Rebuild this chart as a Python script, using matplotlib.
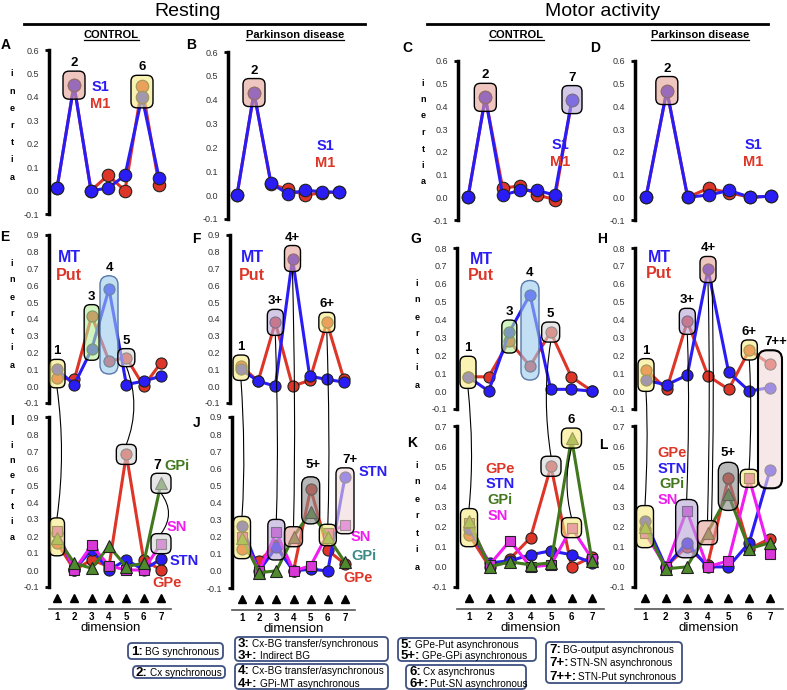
import numpy as np
import matplotlib
matplotlib.use('Agg')
import matplotlib.pyplot as plt
from matplotlib.patches import FancyBboxPatch, PathPatch
from matplotlib.path import Path
from matplotlib.lines import Line2D
from matplotlib.transforms import IdentityTransform, Affine2D
from matplotlib.colors import to_rgba
from matplotlib import font_manager

plt.rcParams['font.family'] = ['Liberation Sans', 'DejaVu Sans']

W, H = 787, 690
dims = [1, 2, 3, 4, 5, 6, 7]

# ---- data (inertia per dimension) ----
A_s1 = [0.01, 0.45, 0.0, 0.01, 0.065, 0.40, 0.055]
A_m1 = [0.01, 0.45, 0.0, 0.065, 0.0, 0.445, 0.025]
B_s1 = [0.0, 0.43, 0.05, 0.005, 0.02, 0.015, 0.012]
B_m1 = [0.0, 0.43, 0.045, 0.025, 0.0, 0.01, 0.012]
C_s1 = [0.0, 0.44, 0.01, 0.03, 0.03, 0.01, 0.43]
C_m1 = [0.0, 0.44, 0.04, 0.05, 0.01, -0.01, 0.43]
D_s1 = [0.0, 0.47, 0.0, 0.01, 0.03, 0.0, 0.005]
D_m1 = [0.0, 0.47, 0.0, 0.04, 0.02, 0.0, 0.005]

E_mt = [0.10, 0.01, 0.22, 0.58, 0.01, 0.03, 0.06]
E_put = [0.05, 0.04, 0.42, 0.15, 0.17, 0.0, 0.14]
F_mt = [0.10, 0.03, 0.0, 0.76, 0.06, 0.04, 0.025]
F_put = [0.12, 0.03, 0.38, 0.0, 0.035, 0.38, 0.04]
G_mt = [0.08, 0.0, 0.33, 0.54, 0.01, 0.01, 0.0]
G_put = [0.08, 0.08, 0.28, 0.14, 0.33, 0.08, 0.0]
H_mt = [0.06, 0.035, 0.09, 0.68, 0.105, 0.0, 0.02]
H_put = [0.12, 0.01, 0.39, 0.085, 0.01, 0.23, 0.15]

I_gpe = [0.16, 0.0, 0.06, 0.02, 0.68, 0.06, 0.0]
I_stn = [0.22, 0.0, 0.12, 0.0, 0.06, 0.0, 0.065]
I_gpi = [0.19, 0.04, 0.01, 0.14, 0.02, 0.04, 0.51]
I_sn = [0.23, 0.0, 0.145, 0.025, 0.0, 0.0, 0.155]
J_gpe = [0.13, 0.06, 0.15, 0.0, 0.48, 0.12, 0.04]
J_stn = [0.26, 0.0, 0.14, 0.0, 0.01, 0.0, 0.55]
J_gpi = [0.19, -0.01, 0.0, 0.20, 0.345, 0.20, 0.05]
J_sn = [0.20, 0.0, 0.225, 0.0, 0.03, 0.22, 0.27]
K_gpe = [0.16, 0.0, 0.04, 0.145, 0.50, 0.0, 0.05]
K_stn = [0.19, 0.02, 0.03, 0.06, 0.08, 0.06, 0.02]
K_gpi = [0.23, 0.0, 0.025, 0.01, 0.02, 0.64, 0.03]
K_sn = [0.22, 0.01, 0.13, 0.0, 0.01, 0.195, 0.04]
L_gpe = [0.19, 0.0, 0.10, 0.01, 0.44, 0.09, 0.14]
L_stn = [0.23, 0.0, 0.12, 0.0, 0.0, 0.12, 0.48]
L_gpi = [0.20, -0.01, 0.0, 0.17, 0.36, 0.09, 0.12]
L_sn = [0.17, 0.0, 0.28, 0.0, 0.03, 0.44, 0.065]

legend_items = [
    [('1:', 'BG synchronous')],
    [('2:', 'Cx synchronous')],
    [('3:', 'Cx-BG transfer/synchronous'), ('3+:', 'Indirect BG')],
    [('4:', 'Cx-BG transfer/asynchronous'), ('4+:', 'GPi-MT asynchronous')],
    [('5:', 'GPe-Put asynchronous'), ('5+:', 'GPe-GPi asynchronous')],
    [('6:', 'Cx asynchronus'), ('6+:', 'Put-SN asynchronous')],
    [('7:', 'BG-output asynchronous'), ('7+:', 'STN-SN asynchronous'),
     ('7++:', 'STN-Put synchronous')],
]

RED = '#dd3527'
BLUE = '#2a1cf5'
GREEN = '#41781d'
MAG = '#f01cf0'
YEL = '#f5ea80'
PINK = '#e3a195'
GRN = '#b4ee98'
LBLUE = '#9ccbee'
GREY = '#d6d6d6'
DGREY = '#8a8a8a'
PURP = '#b7a5d6'
LPINK = '#f0dada'

installed = {f.name for f in font_manager.fontManager.ttflist}
NARROW = 'Liberation Sans Narrow' if 'Liberation Sans Narrow' in installed else 'Liberation Sans'

fig = plt.figure(figsize=(W / 100, H / 100), dpi=100)
T = Affine2D().scale(1, -1).translate(0, H)   # pixel coords, origin top-left


def ftext(x, y, s, **kw):
    return fig.text(x, y, s, transform=T, **kw)


def panel(spine, x1, x7, ylo, yhi, ytop, ybot, bottom=False):
    s = (x7 - x1) / 6
    xmin = 1 - (x1 - spine) / s
    xmax = 7.6
    right = x1 + (xmax - 1) * s
    ax = fig.add_axes([spine / W, 1 - ybot / H, (right - spine) / W, (ybot - ytop) / H])
    ax.set_xlim(xmin, xmax)
    ax.set_ylim(ylo, yhi)
    ax.patch.set_alpha(0)
    ax.spines['top'].set_visible(False)
    ax.spines['right'].set_visible(False)
    ax.spines['left'].set_linewidth(2.5)
    yt = np.round(np.arange(ylo, yhi + 0.01, 0.1), 1)
    ax.set_yticks(yt)
    ax.set_yticklabels(['%.1f' % (v if abs(v) > 1e-9 else 0.0) for v in yt])
    ax.tick_params(axis='y', length=0, labelsize=6.5, labelcolor='#333333', pad=7)
    ax.yaxis.remove_overlapping_locs = False
    ax.set_yticks([ylo, yhi], minor=True)
    ax.tick_params(axis='y', which='minor', length=3, width=2)
    if bottom:
        ax.spines['bottom'].set_position(('outward', 16))
        ax.spines['bottom'].set_color('#555555')
        ax.spines['bottom'].set_linewidth(1.2)
        ax.set_xticks(dims)
        ax.set_xticklabels([str(d) for d in dims], fontweight='bold')
        ax.tick_params(axis='x', length=0, labelsize=7, pad=2)
        ax.set_xlabel('dimension', fontsize=9.5, labelpad=0, family=NARROW)
        h = ybot - ytop
        ax.plot(dims, [-11.0 / h] * 7, '^', color='k', ms=5.5,
                transform=ax.get_xaxis_transform(), clip_on=False)
    else:
        ax.spines['bottom'].set_visible(False)
        ax.set_xticks([])
    return ax


def series(ax, y, color, marker='o', fc=None, ms=8):
    ax.plot(dims, y, '-', color=color, lw=2.2, marker=marker, ms=ms,
            mfc=fc or color, mec='#222222', mew=0.8, clip_on=False)


def hbox(ax, x, y0, y1, fc, w=16, pad=11, label=None, ec='k', r=6, alpha=0.6, lw=1.0):
    xa, ya = ax.transData.transform((x, y0))
    _, yb = ax.transData.transform((x, y1))
    bot = min(ya, yb) - pad
    top = max(ya, yb) + pad
    p = FancyBboxPatch((xa - w / 2, bot), w, top - bot,
                       boxstyle='round,pad=0,rounding_size=%g' % r,
                       fc=to_rgba(fc, alpha), ec=ec, lw=lw,
                       transform=IdentityTransform(), zorder=5)
    fig.add_artist(p)
    if label:
        fig.text(xa, top + 2, label, transform=IdentityTransform(), ha='center',
                 va='bottom', fontsize=9.5, fontweight='bold', zorder=6)
    return (xa, top), (xa, bot)


def link(p, q, bend=4):
    (x0, y0), (x1, y1) = p, q
    d = y0 - y1
    verts = [(x0, y0), (x0 + bend, y0 - d / 3), (x1 + bend, y1 + d / 3), (x1, y1)]
    path = Path(verts, [Path.MOVETO, Path.CURVE4, Path.CURVE4, Path.CURVE4])
    fig.add_artist(PathPatch(path, fill=False, lw=0.8, ec='k',
                             transform=IdentityTransform(), zorder=4))


def inertia(x, y0, y1):
    for i, ch in enumerate('inertia'):
        ftext(x, y0 + i * (y1 - y0) / 6, ch, ha='center', va='center',
              fontsize=6.5, fontweight='bold')


# ---- panels ----
axA = panel(49, 57, 159, -0.1, 0.6, 50, 214)
axB = panel(228, 237, 339, -0.1, 0.6, 52, 219)
axC = panel(458, 468, 572, -0.1, 0.6, 61, 220)
axD = panel(635, 646, 771, -0.1, 0.6, 61, 220)
axE = panel(49, 57, 161, -0.1, 0.9, 235, 403)
axF = panel(230, 241, 344, -0.1, 0.9, 235, 403)
axG = panel(457, 468, 592, -0.1, 0.8, 248, 409)
axH = panel(635, 646, 770, -0.1, 0.8, 248, 409)
axI = panel(49, 57, 161, -0.1, 0.9, 417, 587, bottom=True)
axJ = panel(232, 242, 345, -0.1, 0.9, 417, 588, bottom=True)
axK = panel(457, 469, 592, -0.1, 0.7, 426, 587, bottom=True)
axL = panel(635, 645, 770, -0.1, 0.7, 426, 587, bottom=True)

for ax, s1, m1 in [(axA, A_s1, A_m1), (axB, B_s1, B_m1), (axC, C_s1, C_m1), (axD, D_s1, D_m1)]:
    series(ax, m1, RED, ms=9)
    series(ax, s1, BLUE, ms=9)
for ax, mt, put in [(axE, E_mt, E_put), (axF, F_mt, F_put), (axG, G_mt, G_put), (axH, H_mt, H_put)]:
    series(ax, put, RED)
    series(ax, mt, BLUE)
for ax, gpe, stn, gpi, sn in [(axI, I_gpe, I_stn, I_gpi, I_sn), (axJ, J_gpe, J_stn, J_gpi, J_sn),
                              (axK, K_gpe, K_stn, K_gpi, K_sn), (axL, L_gpe, L_stn, L_gpi, L_sn)]:
    series(ax, gpe, RED)
    series(ax, stn, BLUE)
    series(ax, sn, MAG, marker='s', fc='#d838d8', ms=7.5)
    series(ax, gpi, GREEN, marker='^', fc='#4f8a2c', ms=8.5)

# ---- titles ----
ftext(188, 11, 'Resting', ha='center', va='center', fontsize=14)
ftext(603, 11, 'Motor activity', ha='center', va='center', fontsize=14)
fig.add_artist(Line2D([24, 365], [24, 24], color='k', lw=2, transform=T))
fig.add_artist(Line2D([427, 768], [24, 24], color='k', lw=2, transform=T))
rend = fig.canvas.get_renderer()
for x, s in [(111, 'CONTROL'), (295, 'Parkinson disease'), (516, 'CONTROL'), (700, 'Parkinson disease')]:
    t = ftext(x, 35, s, ha='center', va='center', fontsize=8, fontweight='bold')
    bb = t.get_window_extent(rend)
    fig.add_artist(Line2D([bb.x0, bb.x1], [bb.y0 + 0.5, bb.y0 + 0.5], color='k', lw=0.9,
                          transform=IdentityTransform()))

# ---- panel letters & y labels ----
for x, y, s in [(6, 45, 'A'), (191, 45, 'B'), (407, 48, 'C'), (595, 48, 'D'),
                (5, 237, 'E'), (196, 239, 'F'), (416, 239, 'G'), (602, 239, 'H'),
                (12, 421, 'I'), (197, 423, 'J'), (412, 443, 'K'), (603, 445, 'L')]:
    ftext(x, y, s, ha='center', va='center', fontsize=10, fontweight='bold')
inertia(12, 74, 177)
inertia(423, 83, 182)
inertia(12, 263, 365)
inertia(417, 283, 385)
inertia(12, 445, 537)
inertia(417, 465, 567)

# ---- series labels ----
lab = dict(ha='center', va='center', fontweight='bold')
for x, y in [(100, 87), (325, 146), (560, 145), (753, 145)]:
    ftext(x, y, 'S1', color=BLUE, fontsize=10.5, **lab)
    ftext(x, y + 17, 'M1', color=RED, fontsize=10.5, **lab)
for x, y in [(69, 258), (252, 258), (481, 259), (659, 257)]:
    ftext(x, y, 'MT', color=BLUE, fontsize=11.5, **lab)
    ftext(x, y + 17, 'Put', color=RED, fontsize=11.5, **lab)
ftext(157, 465, '7', color='k', fontsize=10, **lab)
ftext(177, 466, 'GPi', color=GREEN, fontsize=10.5, **lab)
ftext(177, 527, 'SN', color=MAG, fontsize=10.5, **lab)
ftext(184, 561, 'STN', color=BLUE, fontsize=10.5, **lab)
ftext(167, 583, 'GPe', color=RED, fontsize=10.5, **lab)
ftext(313, 465, '5+', color='k', fontsize=9.5, **lab)
ftext(350, 460, '7+', color='k', fontsize=9.5, **lab)
ftext(373, 472, 'STN', color=BLUE, fontsize=10.5, **lab)
ftext(361, 537, 'SN', color=MAG, fontsize=10.5, **lab)
ftext(364, 556, 'GPi', color='#3a8a86', fontsize=10.5, **lab)
ftext(358, 578, 'GPe', color=RED, fontsize=10.5, **lab)
for (x, y, s, c) in [(500, 469, 'GPe', RED), (500, 484, 'STN', BLUE), (500, 500, 'GPi', GREEN),
                     (498, 516, 'SN', MAG), (672, 453, 'GPe', RED), (672, 469, 'STN', BLUE),
                     (672, 484, 'GPi', GREEN), (668, 500, 'SN', MAG)]:
    ftext(x, y, s, color=c, fontsize=10.5, **lab)
ftext(728, 453, '5+', color='k', fontsize=9.5, **lab)

# ---- highlight boxes ----
hbox(axA, 2, 0.45, 0.45, PINK, w=22, pad=14, label='2')
hbox(axA, 6, 0.40, 0.445, YEL, w=22, pad=11, label='6')
hbox(axB, 2, 0.43, 0.43, PINK, w=22, pad=14, label='2')
hbox(axC, 2, 0.44, 0.44, PINK, w=22, pad=14, label='2')
hbox(axC, 7, 0.43, 0.43, PURP, w=20, pad=14, label='7')
hbox(axD, 2, 0.47, 0.47, PINK, w=22, pad=14, label='2')

e1 = hbox(axE, 1, 0.05, 0.10, YEL, label='1', pad=10)
hbox(axE, 3, 0.22, 0.42, GRN, w=15, pad=11, label='3')
hbox(axE, 4, 0.15, 0.58, LBLUE, w=18, pad=13, label='4', ec='#5677a8', r=9)
e5 = hbox(axE, 5, 0.17, 0.17, GREY, w=17, pad=9, label='5')
f1 = hbox(axF, 1, 0.10, 0.12, YEL, label='1', pad=11)
f3 = hbox(axF, 3, 0.38, 0.38, PURP, pad=13, label='3+')
f4 = hbox(axF, 4, 0.76, 0.76, PINK, pad=13, label='4+')
f6 = hbox(axF, 6, 0.38, 0.38, YEL, pad=10, label='6+')
g1 = hbox(axG, 1, 0.06, 0.15, YEL, label='1', pad=8)
hbox(axG, 3, 0.28, 0.33, GRN, w=15, pad=12, label='3')
hbox(axG, 4, 0.14, 0.54, LBLUE, w=18, pad=14, label='4', ec='#5677a8', r=9)
g5 = hbox(axG, 5, 0.33, 0.33, GREY, w=18, pad=10, label='5')
h1 = hbox(axH, 1, 0.06, 0.12, YEL, label='1', pad=11)
h3 = hbox(axH, 3, 0.39, 0.39, PURP, pad=13, label='3+')
h4 = hbox(axH, 4, 0.68, 0.68, PINK, pad=13, label='4+')
h6 = hbox(axH, 6, 0.23, 0.23, YEL, pad=10, label='6+')

i1 = hbox(axI, 1, 0.16, 0.23, YEL, w=15, pad=13)
i5 = hbox(axI, 5, 0.68, 0.68, GREY, w=20, pad=10)
i7a = hbox(axI, 7, 0.51, 0.51, GREY, w=20, pad=10)
i7b = hbox(axI, 7, 0.155, 0.155, GREY, w=20, pad=10)
j1 = hbox(axJ, 1, 0.13, 0.26, YEL, w=17, pad=10)
j3 = hbox(axJ, 3, 0.14, 0.225, PURP, w=17, pad=13)
j4 = hbox(axJ, 4, 0.20, 0.20, PINK, w=18, pad=10)
hbox(axJ, 5, 0.345, 0.48, DGREY, w=18, pad=12, r=8)
j6 = hbox(axJ, 6, 0.20, 0.22, YEL, w=17, pad=9)
hbox(axJ, 7, 0.27, 0.55, LPINK, w=18, pad=9)
k1 = hbox(axK, 1, 0.16, 0.23, YEL, w=17, pad=12)
k5 = hbox(axK, 5, 0.50, 0.50, GREY, w=20, pad=10)
k6a = hbox(axK, 6, 0.64, 0.64, YEL, w=20, pad=10, label='6')
k6b = hbox(axK, 6, 0.195, 0.195, YEL, w=20, pad=10)
l1 = hbox(axL, 1, 0.17, 0.23, YEL, w=17, pad=15)
l3 = hbox(axL, 3, 0.10, 0.28, PURP, w=22, pad=11, r=8)
l4 = hbox(axL, 4, 0.17, 0.17, PINK, w=20, pad=12)
hbox(axL, 5, 0.36, 0.44, DGREY, w=20, pad=16, r=9)
l6 = hbox(axL, 6, 0.44, 0.44, YEL, w=18, pad=9)

# 7++ : tall box from panel H down into panel L
xa, ya = axH.transData.transform((7, 0.15))
_, yb = axL.transData.transform((7, 0.48))
fig.add_artist(FancyBboxPatch((xa - 12, yb - 18), 24, (ya + 14) - (yb - 18),
                              boxstyle='round,pad=0,rounding_size=9',
                              fc=to_rgba(LPINK, 0.6), ec='k', lw=1.5,
                              transform=IdentityTransform(), zorder=5))
fig.text(xa + 6, ya + 16, '7++', transform=IdentityTransform(), ha='center', va='bottom',
         fontsize=9.5, fontweight='bold')

# ---- connecting curves ----
link(e1[1], i1[0], bend=6)
link(e5[1], i5[0], bend=10)
link(f1[1], j1[0], bend=3)
link(f3[1], j3[0], bend=2)
link(f4[1], j4[0], bend=2)
link(f6[1], j6[0], bend=2)
link(g1[1], k1[0], bend=4)
link(g5[1], k5[0], bend=-6)
link(k6a[1], k6b[0], bend=-6)
link(h1[1], l1[0], bend=2)
link(h3[1], l3[0], bend=2)
link(h4[1], l4[0], bend=2)
link((h4[1][0] + 4, h4[1][1]), (l4[0][0] + 4, l4[0][1]), bend=2)
link(h6[1], l6[0], bend=2)
link(i7a[1], i7b[0], bend=10)

# ---- legend boxes ----
boxes = [(128, 643, 223, 659), (133, 666, 225, 678), (235, 637, 388, 661), (235, 664, 388, 689),
         (398, 638, 536, 661), (406, 665, 526, 689), (546, 642, 682, 683)]
for (x0, y0, x1, y1), items in zip(boxes, legend_items):
    fig.add_artist(FancyBboxPatch((x0, H - y1), x1 - x0, y1 - y0,
                                  boxstyle='round,pad=0,rounding_size=4', fc='white',
                                  ec='#3d5080', lw=1.3, transform=IdentityTransform()))
    n = len(items)
    step = (y1 - y0) / n
    for i, (num, desc) in enumerate(items):
        yc = y0 + step * (i + 0.5)
        t = ftext(x0 + 3, yc + 4, num, ha='left', va='baseline', fontsize=9.5,
                  fontweight='bold', family=NARROW)
        bb = t.get_window_extent(rend)
        fig.text(bb.x1 + 2, H - (yc + 4), desc, transform=IdentityTransform(),
                 ha='left', va='baseline', fontsize=7.2, family=NARROW)

fig.savefig('out.png', dpi=100)
